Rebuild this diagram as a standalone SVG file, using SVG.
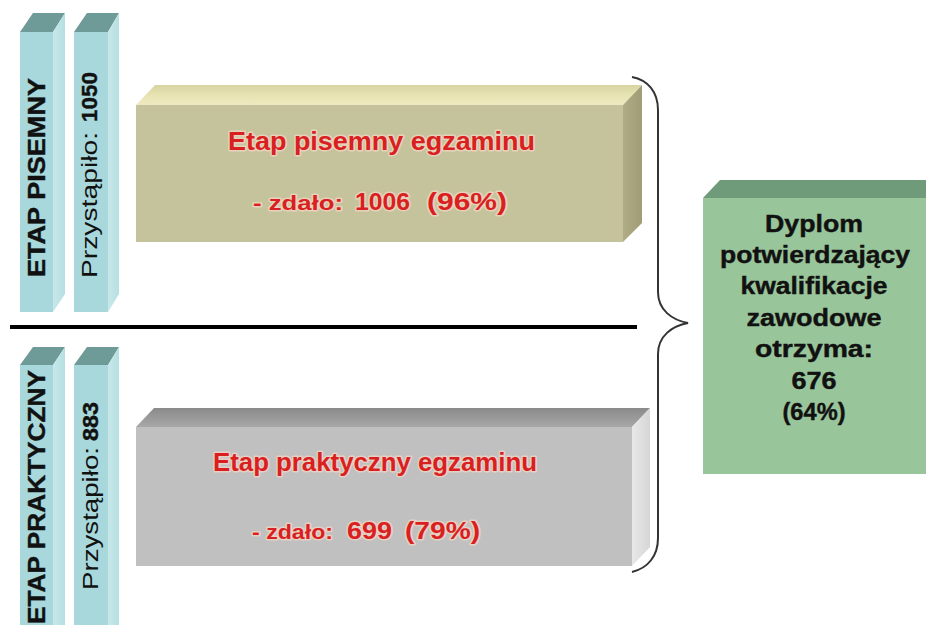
<svg xmlns="http://www.w3.org/2000/svg" width="926" height="625" viewBox="0 0 926 625">
<defs>
<linearGradient id="gTopY" x1="0" y1="0" x2="0" y2="1">
<stop offset="0" stop-color="#d9d5a2"/><stop offset="0.5" stop-color="#e7e3b2"/><stop offset="1" stop-color="#eeeac0"/>
</linearGradient>
<linearGradient id="gSideY" x1="0" y1="0" x2="1" y2="0">
<stop offset="0" stop-color="#b0ad86"/><stop offset="1" stop-color="#9f9c76"/>
</linearGradient>
<linearGradient id="gTopG" x1="0" y1="0" x2="0" y2="1">
<stop offset="0" stop-color="#8a8a8a"/><stop offset="1" stop-color="#a8a8a8"/>
</linearGradient>
<linearGradient id="gSideG" x1="0" y1="0" x2="1" y2="0">
<stop offset="0" stop-color="#e8e8e8"/><stop offset="1" stop-color="#d6d6d6"/>
</linearGradient>
<linearGradient id="gSideC" x1="0" y1="0" x2="1" y2="0">
<stop offset="0" stop-color="#c8e8ea"/><stop offset="1" stop-color="#b6dfe2"/>
</linearGradient>
</defs>
<style>
.pf{fill:#a8d8db}
.ps{fill:url(#gSideC)}
.pt{fill:#6e9a97}
.lbl{font-family:"Liberation Sans",Arial,sans-serif;fill:#111}
.b{font-weight:bold;stroke:#111;stroke-width:0.4}
.red{font-family:"Liberation Sans",Arial,sans-serif;font-weight:bold;fill:#d91f1f;stroke:#f3d6c6;stroke-width:3;stroke-opacity:0.75;paint-order:stroke;stroke-linejoin:round}
.grn{font-family:"Liberation Sans",Arial,sans-serif;font-weight:bold;font-size:23px;fill:#111;stroke:#111;stroke-width:0.4;text-anchor:middle}
</style>
<rect width="926" height="625" fill="#ffffff"/>

<g id="pillar-etap-pisemny">
<polygon class="pt" points="20,32 33,13 65,13 53,32"/>
<polygon class="ps" points="53,32 65,13 65,294 53,312"/>
<rect class="pf" x="20" y="32" width="33" height="280"/>
<text class="lbl b" font-size="23" transform="translate(45,277) rotate(-90)" textLength="199" lengthAdjust="spacingAndGlyphs">ETAP PISEMNY</text>
</g>

<g id="pillar-przystapilo-1050">
<polygon class="pt" points="74,32 87,13 119,13 108,32"/>
<polygon class="ps" points="108,32 119,13 119,294 108,312"/>
<rect class="pf" x="74" y="32" width="34" height="280"/>
<text class="lbl" font-size="22" transform="translate(97,278) rotate(-90)" textLength="146" lengthAdjust="spacingAndGlyphs">Przystąpiło:</text>
<text class="lbl b" font-size="22" transform="translate(97,122) rotate(-90)" textLength="50" lengthAdjust="spacingAndGlyphs">1050</text>
</g>

<g id="pillar-etap-praktyczny">
<polygon class="pt" points="20,365 33,347 65,347 53,365"/>
<polygon class="ps" points="53,365 65,347 65,625 53,625"/>
<rect class="pf" x="20" y="365" width="33" height="260"/>
<text class="lbl b" font-size="23" transform="translate(45,624) rotate(-90)" textLength="254" lengthAdjust="spacingAndGlyphs">ETAP PRAKTYCZNY</text>
</g>

<g id="pillar-przystapilo-883">
<polygon class="pt" points="74,365 87,347 119,347 108,365"/>
<polygon class="ps" points="108,365 119,347 119,625 108,625"/>
<rect class="pf" x="74" y="365" width="34" height="260"/>
<text class="lbl" font-size="22" transform="translate(98,590) rotate(-90)" textLength="143" lengthAdjust="spacingAndGlyphs">Przystąpiło:</text>
<text class="lbl b" font-size="22" transform="translate(98,441) rotate(-90)" textLength="39" lengthAdjust="spacingAndGlyphs">883</text>
</g>

<line x1="10" y1="327" x2="637" y2="327" stroke="#000" stroke-width="4"/>

<g id="box-etap-pisemny">
<polygon points="136,105 155,85 642,85 623,105" fill="url(#gTopY)"/>
<polygon points="623,105 642,85 642,223 623,242" fill="url(#gSideY)"/>
<rect x="136" y="105" width="487" height="137" fill="#c5c39b"/>
<text class="red" font-size="25" x="228" y="150" textLength="307" lengthAdjust="spacingAndGlyphs">Etap pisemny egzaminu</text>
<text class="red" font-size="21" x="253" y="210" textLength="90" lengthAdjust="spacingAndGlyphs">- zdało:</text>
<text class="red" font-size="23" x="355" y="210" textLength="55" lengthAdjust="spacingAndGlyphs">1006</text>
<text class="red" font-size="23" x="427" y="210" textLength="80" lengthAdjust="spacingAndGlyphs">(96%)</text>
</g>

<g id="box-etap-praktyczny">
<polygon points="136,427 154,408 650,408 632,427" fill="url(#gTopG)"/>
<polygon points="632,427 650,408 650,547 632,566" fill="url(#gSideG)"/>
<rect x="136" y="427" width="496" height="139" fill="#c0c0c0"/>
<text class="red" font-size="25" x="213" y="471" textLength="324" lengthAdjust="spacingAndGlyphs">Etap praktyczny egzaminu</text>
<text class="red" font-size="21" x="252" y="539" textLength="81" lengthAdjust="spacingAndGlyphs">- zdało:</text>
<text class="red" font-size="23" x="347" y="539" textLength="45" lengthAdjust="spacingAndGlyphs">699</text>
<text class="red" font-size="23" x="405" y="539" textLength="75" lengthAdjust="spacingAndGlyphs">(79%)</text>
</g>

<g id="box-dyplom">
<polygon points="703,198 720,180 926,180 926,198" fill="#6f9b7a"/>
<rect x="703" y="198" width="223" height="276" fill="#99c59b"/>
<text class="grn" x="814" y="232" textLength="98" lengthAdjust="spacingAndGlyphs">Dyplom</text>
<text class="grn" x="815" y="263" textLength="190" lengthAdjust="spacingAndGlyphs">potwierdzający</text>
<text class="grn" x="814" y="294" textLength="147" lengthAdjust="spacingAndGlyphs">kwalifikacje</text>
<text class="grn" x="814" y="326" textLength="135" lengthAdjust="spacingAndGlyphs">zawodowe</text>
<text class="grn" x="814" y="357" textLength="118" lengthAdjust="spacingAndGlyphs">otrzyma:</text>
<text class="grn" x="814" y="389" textLength="45" lengthAdjust="spacingAndGlyphs">676</text>
<text class="grn" x="814" y="420" textLength="63" lengthAdjust="spacingAndGlyphs">(64%)</text>
</g>

<g id="connectors">
<path d="M632,77 C648,80 658,92 658,110 L658,292 C658,310 672,320 688,323 C672,326 658,336 658,354 L658,538 C658,556 648,568 632,572" fill="none" stroke="#333" stroke-width="2"/>
</g>
</svg>
